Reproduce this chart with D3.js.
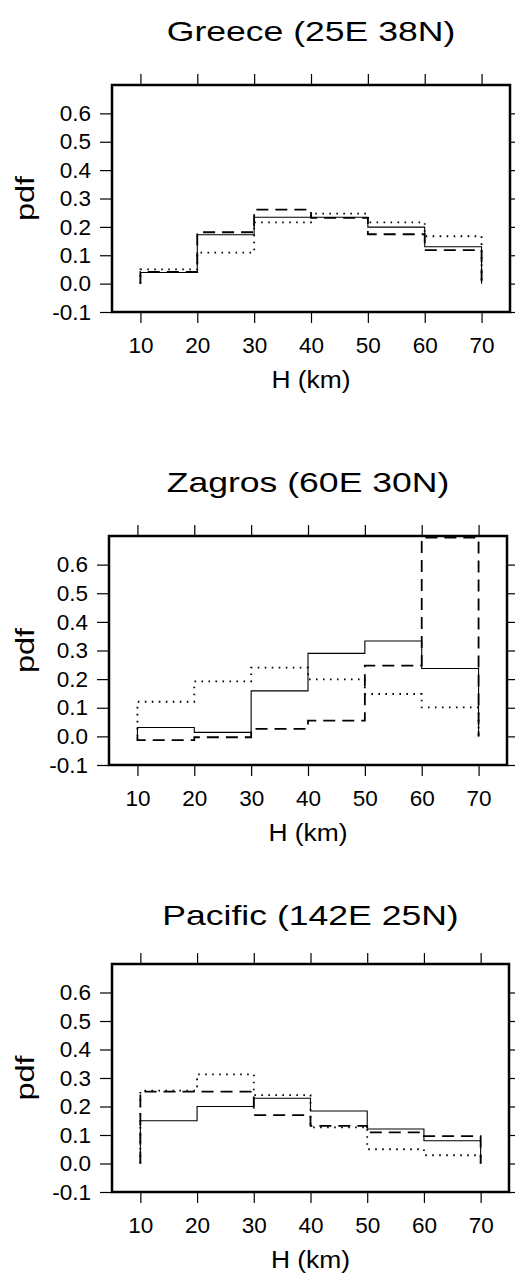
<!DOCTYPE html>
<html>
<head>
<meta charset="utf-8">
<script src="https://cdn.jsdelivr.net/npm/d3@7"></script>
<style>
  body { margin: 0; background: #fff; }
  svg { display: block; font-family: "Liberation Sans", Arial, Helvetica, sans-serif; }
</style>
</head>
<body>
<div id="chart"></div>
<script>
const width = 515;
const height = 1273;

/* data */
const binEdges = [10, 20, 30, 40, 50, 60, 70];
const xTicks = [10, 20, 30, 40, 50, 60, 70];
const yTicks = [-0.1, 0, 0.1, 0.2, 0.3, 0.4, 0.5, 0.6];
const panelTitles = ["Greece (25E 38N)", "Zagros (60E 30N)", "Pacific (142E 25N)"];

const greeceSolid  = [0.039, 0.172, 0.234, 0.234, 0.199, 0.130];
const greeceDashed = [0.041, 0.181, 0.261, 0.232, 0.174, 0.118];
const greeceDotted = [0.050, 0.109, 0.216, 0.247, 0.216, 0.167];

const zagrosSolid  = [0.031, 0.014, 0.159, 0.290, 0.333, 0.237];
const zagrosDashed = [-0.013, -0.003, 0.026, 0.055, 0.247, 0.694];
const zagrosDotted = [0.121, 0.192, 0.240, 0.199, 0.148, 0.101];

const pacificSolid  = [0.150, 0.200, 0.229, 0.184, 0.121, 0.080];
const pacificDashed = [0.252, 0.252, 0.170, 0.132, 0.109, 0.096];
const pacificDotted = [0.256, 0.313, 0.240, 0.127, 0.050, 0.029];

const panelSeries = [
  [greeceSolid, greeceDashed, greeceDotted],
  [zagrosSolid, zagrosDashed, zagrosDotted],
  [pacificSolid, pacificDashed, pacificDotted]
];

/* where each frame sits on the page */
const layout = [
  { left: 112, top: 85,  w: 398, h: 227, titleGap: 44 },
  { left: 109, top: 536, w: 398, h: 229, titleGap: 44 },
  { left: 112, top: 964, w: 397, h: 228, titleGap: 39 }
];

const lineStyles = [
  { width: 1.1, dash: null },        // solid
  { width: 1.8, dash: "12,7" },      // dashed
  { width: 1.8, dash: "1.6,5.4" }    // dotted
];

const fmt = (d) => d3.format(".1f")(d).replace("\u2212", "-");

let svg = d3.select("#chart").append("svg")
  .attr("width", width)
  .attr("height", height);

function stepPoints(values) {
  let pts = [[binEdges[0], 0]];
  values.forEach((v, i) => {
    pts.push([binEdges[i], v]);
    pts.push([binEdges[i + 1], v]);
  });
  pts.push([binEdges[binEdges.length - 1], 0]);
  return pts;
}

function drawPanel(p, i) {
  let x = d3.scaleLinear().domain([5, 75]).range([p.left, p.left + p.w]);
  let y = d3.scaleLinear().domain([-0.1, 0.7]).range([p.top + p.h, p.top]);
  let cx = p.left + p.w / 2;

  let g = svg.append("g");

  // title
  g.append("text")
    .attr("transform", "translate(" + cx + "," + (p.top - p.titleGap) + ") scale(1.27,1)")
    .attr("text-anchor", "middle")
    .attr("fill", "#000")
    .style("font-size", "28px")
    .text(panelTitles[i]);

  // axes (ticks outside the frame)
  let styleAxis = (sel) => {
    sel.select(".domain").remove();
    sel.attr("font-family", null).attr("font-size", null);
    sel.selectAll(".tick line").attr("stroke", "#000").attr("stroke-width", 1.2);
    sel.selectAll(".tick text").attr("fill", "#000").style("font-size", "22.5px");
  };

  g.append("g")
    .attr("transform", "translate(" + p.left + ",0)")
    .call(d3.axisLeft(y).tickValues(yTicks).tickSize(12).tickPadding(9).tickFormat(fmt))
    .call(styleAxis);

  g.append("g")
    .attr("transform", "translate(" + (p.left + p.w) + ",0)")
    .call(d3.axisRight(y).tickValues(yTicks).tickSize(8).tickFormat(""))
    .call(styleAxis);

  g.append("g")
    .attr("transform", "translate(0," + p.top + ")")
    .call(d3.axisTop(x).tickValues(xTicks).tickSize(11).tickFormat(""))
    .call(styleAxis);

  g.append("g")
    .attr("transform", "translate(0," + (p.top + p.h) + ")")
    .call(d3.axisBottom(x).tickValues(xTicks).tickSize(11).tickPadding(14).tickFormat(d3.format("d")))
    .call(styleAxis);

  // frame
  g.append("rect")
    .attr("x", p.left)
    .attr("y", p.top)
    .attr("width", p.w)
    .attr("height", p.h)
    .attr("fill", "none")
    .attr("stroke", "#000")
    .attr("stroke-width", 2.5);

  // histogram outlines
  let line = d3.line().x((d) => x(d[0])).y((d) => y(d[1]));
  panelSeries[i].forEach((values, k) => {
    g.append("path")
      .attr("d", line(stepPoints(values)))
      .attr("fill", "none")
      .attr("stroke", "#000")
      .attr("stroke-width", lineStyles[k].width)
      .attr("stroke-dasharray", lineStyles[k].dash);
  });

  // axis labels
  g.append("text")
    .attr("transform", "translate(" + cx + "," + (p.top + p.h + 76) + ") scale(1.1,1)")
    .attr("text-anchor", "middle")
    .attr("fill", "#000")
    .style("font-size", "24px")
    .text("H (km)");

  g.append("text")
    .attr("transform", "translate(34," + (p.top + p.h / 2) + ") rotate(-90) scale(1.3,1)")
    .attr("text-anchor", "middle")
    .attr("fill", "#000")
    .style("font-size", "25px")
    .text("pdf");
}

layout.forEach(drawPanel);
</script>
</body>
</html>
